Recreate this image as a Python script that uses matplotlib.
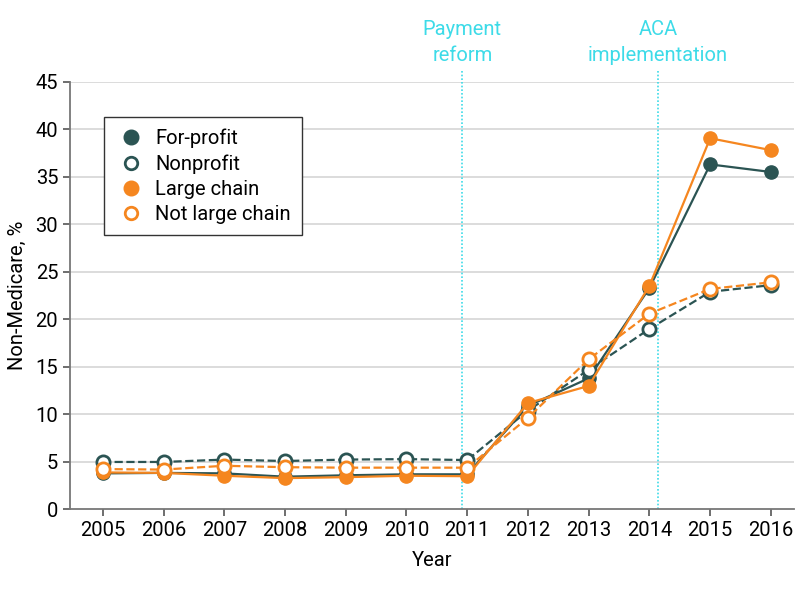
import numpy as np
import matplotlib
matplotlib.use("Agg")
import matplotlib.pyplot as plt

plt.rcParams['font.family'] = ['Roboto', 'DejaVu Sans']

years = np.arange(2005, 2017)
for_profit = [3.8, 3.85, 3.8, 3.45, 3.6, 3.7, 3.7, 10.9, 13.8, 23.3, 36.3, 35.5]
nonprofit = [5.0, 5.0, 5.25, 5.1, 5.25, 5.3, 5.2, 10.4, 14.7, 19.0, 22.9, 23.6]
large_chain = [3.9, 3.85, 3.55, 3.3, 3.4, 3.55, 3.5, 11.2, 13.0, 23.55, 39.05, 37.8]
not_large = [4.25, 4.2, 4.6, 4.45, 4.4, 4.4, 4.4, 9.65, 15.8, 20.6, 23.2, 23.9]
events = [2010.92, 2014.14]
event_labels = ['Payment\nreform', 'ACA\nimplementation']

teal = '#2b5453'
orange = '#f5861f'
cyan = '#3ddbe8'
fs = 14.5

fig = plt.figure(figsize=(7.98, 5.95), dpi=100)
ax = fig.add_axes([0.0877, 0.1437, 0.9073, 0.719])

for y in range(5, 50, 5):
    ax.axhline(y, color='#d9d9d9', lw=1.3, zorder=0)

for x, lab in zip(events, event_labels):
    ax.plot([x, x], [0, 46.1], color=cyan, ls=(0, (1, 1.2)), lw=1.2, zorder=1, clip_on=False)
    ax.text(x, 46.8, lab, color=cyan, ha='center', va='bottom', fontsize=fs, linespacing=1.45)

ms = 9.5
ax.plot(years, for_profit, '-o', color=teal, lw=1.6, ms=ms, label='For-profit', zorder=3)
ax.plot(years, nonprofit, '--o', color=teal, lw=1.6, ms=ms, mfc='white', mew=2, label='Nonprofit', zorder=3)
ax.plot(years, large_chain, '-o', color=orange, lw=1.6, ms=ms, label='Large chain', zorder=4)
ax.plot(years, not_large, '--o', color=orange, lw=1.6, ms=ms, mfc='white', mew=2, label='Not large chain', zorder=4)

ax.set_xlim(2004.46, 2016.38)
ax.set_ylim(0, 45)
ax.set_xticks(years)
ax.set_yticks(range(0, 50, 5))
ax.tick_params(labelsize=fs, color='#555555', length=5, width=1.2)
for s in ['top', 'right']:
    ax.spines[s].set_visible(False)
for s in ['left', 'bottom']:
    ax.spines[s].set_color('#777777')
    ax.spines[s].set_linewidth(1.3)

ax.set_xlabel('Year', fontsize=fs, labelpad=8)
ax.set_ylabel('Non-Medicare, %', fontsize=fs, labelpad=6)

handles = [plt.Line2D([], [], ls='none', marker='o', color=teal, ms=10.5),
           plt.Line2D([], [], ls='none', marker='o', color=teal, mfc='white', mew=2, ms=9),
           plt.Line2D([], [], ls='none', marker='o', color=orange, ms=10.5),
           plt.Line2D([], [], ls='none', marker='o', color=orange, mfc='white', mew=2, ms=9)]
leg = ax.legend(handles, ['For-profit', 'Nonprofit', 'Large chain', 'Not large chain'],
                loc='upper left', bbox_to_anchor=(0.033, 0.94), fontsize=fs,
                fancybox=False, framealpha=1, edgecolor='#333333',
                handletextpad=0.4, labelspacing=0.3, borderpad=0.55, handlelength=1.6)
leg.get_frame().set_linewidth(1.0)

fig.savefig('out.png', dpi=100)
